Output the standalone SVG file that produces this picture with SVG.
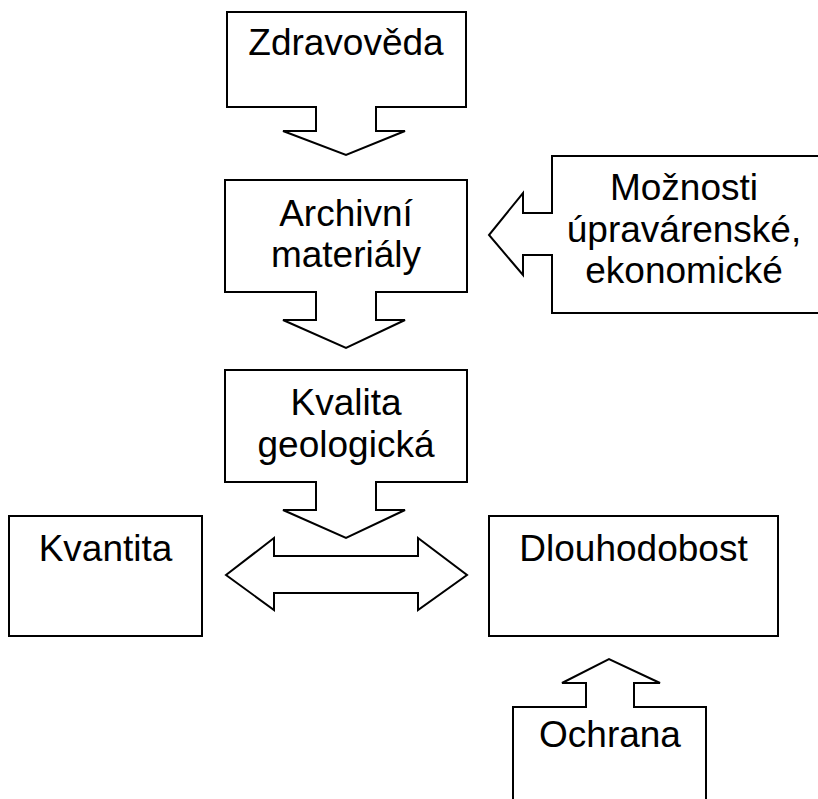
<svg xmlns="http://www.w3.org/2000/svg" width="818" height="799" viewBox="0 0 818 799">
<style>
.s{fill:#fff;stroke:#000;stroke-width:2;stroke-linejoin:miter}
.t{font-family:"Liberation Sans",Arial,sans-serif;font-size:37px;fill:#000;text-anchor:middle}
</style>
<rect x="0" y="0" width="818" height="799" fill="#fff"/>
<g id="zdravoveda">
<polygon class="s" points="227,12 466,12 466,107 376,107 376,131 405,131 346,155 283,131 316,131 316,107 227,107"/>
<text class="t" x="346" y="55">Zdravověda</text>
</g>
<g id="archivni">
<polygon class="s" points="225,180 467,180 467,292 376,292 376,320 405,320 346,348 283,320 316,320 316,292 225,292"/>
<text class="t" x="346" y="226">Archivní</text>
<text class="t" x="346" y="267">materiály</text>
</g>
<g id="moznosti">
<polygon class="s" points="552,156 830,156 830,313 552,313 552,255 523,255 523,275 489,235 523,193 523,213 552,213"/>
<text class="t" x="684" y="200">Možnosti</text>
<text class="t" x="684" y="241.5">úpravárenské,</text>
<text class="t" x="684" y="283">ekonomické</text>
</g>
<g id="kvalita">
<polygon class="s" points="225,370 467,370 467,482 376,482 376,510 405,510 346,538 283,510 316,510 316,482 225,482"/>
<text class="t" x="346" y="415">Kvalita</text>
<text class="t" x="346" y="457">geologická</text>
</g>
<g id="kvantita">
<rect class="s" x="9" y="516" width="193" height="120"/>
<text class="t" x="105.5" y="561">Kvantita</text>
</g>
<g id="dlouhodobost">
<rect class="s" x="489" y="516" width="289" height="120"/>
<text class="t" x="633.5" y="561">Dlouhodobost</text>
</g>
<g id="ochrana">
<polygon class="s" points="513,810 513,707 586,707 586,683 562,683 609,659 660,683 634,683 634,707 706,707 706,810"/>
<text class="t" x="610" y="747">Ochrana</text>
</g>
<g id="connectors">
<polygon class="s" points="226,575 274,538 274,556 418,556 418,538 467,575 418,610 418,593 274,593 274,610"/>
</g>
</svg>
